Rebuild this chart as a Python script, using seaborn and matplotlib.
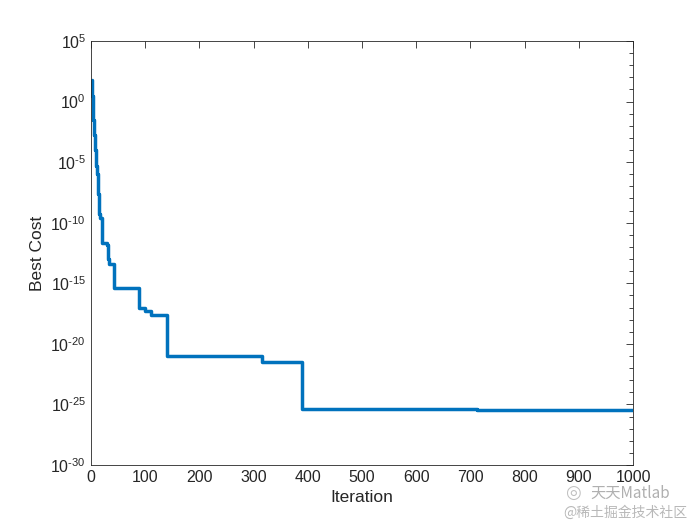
import numpy as np
import pandas as pd
import matplotlib
matplotlib.use('Agg')
import matplotlib.pyplot as plt
import matplotlib.ticker as mticker
import seaborn as sns

# step curve: iteration where each level starts, log10 of best cost
iteration = [1, 2, 3, 4, 5, 6, 7, 8, 9, 10, 11, 12, 13, 14, 15, 16,
             20, 29, 31, 33, 42, 89, 100, 111, 140, 315, 390, 713, 1000]
log_cost = [1.8, 0.5, -0.8, -1.5, -2.0, -2.8, -3.4, -4.0, -4.6, -5.3, -6.0, -6.8, -7.6, -8.5, -9.3, -9.64,
            -11.65, -11.85, -13.0, -13.4, -15.36, -17.07, -17.27, -17.65, -21.0, -21.5, -25.39, -25.5, -25.5]

df = pd.DataFrame({'Iteration': iteration, 'Best Cost': [10.0 ** v for v in log_cost]})

sns.set_style('white')
plt.rcParams['font.family'] = ['Liberation Sans', 'DejaVu Sans']
plt.rcParams['mathtext.fontset'] = 'custom'
plt.rcParams['mathtext.rm'] = 'Liberation Sans'
plt.rcParams['axes.unicode_minus'] = False


def pow10(v, pos):
    e = int(round(np.log10(v)))
    if e < 0:
        return r'$\mathdefault{10^{\text{-}%d}}$' % (-e)
    return r'$\mathdefault{10^{%d}}$' % e


fig = plt.figure(figsize=(7, 5.25), dpi=100)
ax = fig.add_axes([0.13, 0.1143, 0.7743, 0.8076])

sns.lineplot(data=df, x='Iteration', y='Best Cost', ax=ax, color='#0072BD',
             linewidth=2.5, drawstyle='steps-post', estimator=None)
ax.set_yscale('log')
ax.set_xlim(0, 1000)
ax.set_ylim(1e-30, 1e5)
ax.set_xticks(np.arange(0, 1001, 100))
ax.yaxis.set_major_locator(mticker.FixedLocator([10.0 ** e for e in range(-30, 6, 5)]))
ax.yaxis.set_major_formatter(mticker.FuncFormatter(pow10))
ax.yaxis.set_minor_locator(mticker.FixedLocator([10.0 ** e for e in range(-30, 6)]))
ax.yaxis.set_minor_formatter(mticker.NullFormatter())
ax.tick_params(which='both', direction='in', top=True, right=True, labelsize=11.5,
               colors='#262626', width=0.6)
ax.tick_params(which='major', length=5)
ax.tick_params(which='minor', length=3)
ax.set_xlabel('Iteration', fontsize=12.5, color='#262626')
ax.set_ylabel('Best Cost', fontsize=12.5, color='#262626')
for s in ax.spines.values():
    s.set_color('#262626')
    s.set_linewidth(0.6)

# watermark
fig.text(0.843, 0.061, '天天Matlab', fontsize=11, color='#b0b0b0',
         family=['Noto Sans CJK SC', 'DejaVu Sans'], va='center')
fig.text(0.805, 0.023, '@稀土掘金技术社区', fontsize=10, color='#b8b8b8',
         family=['Noto Sans CJK SC', 'DejaVu Sans'], va='center')
fig.text(0.818, 0.061, '◎', fontsize=13, color='#c0c0c0',
         family=['DejaVu Sans'], va='center', ha='center')

fig.savefig('out.png', dpi=100)
